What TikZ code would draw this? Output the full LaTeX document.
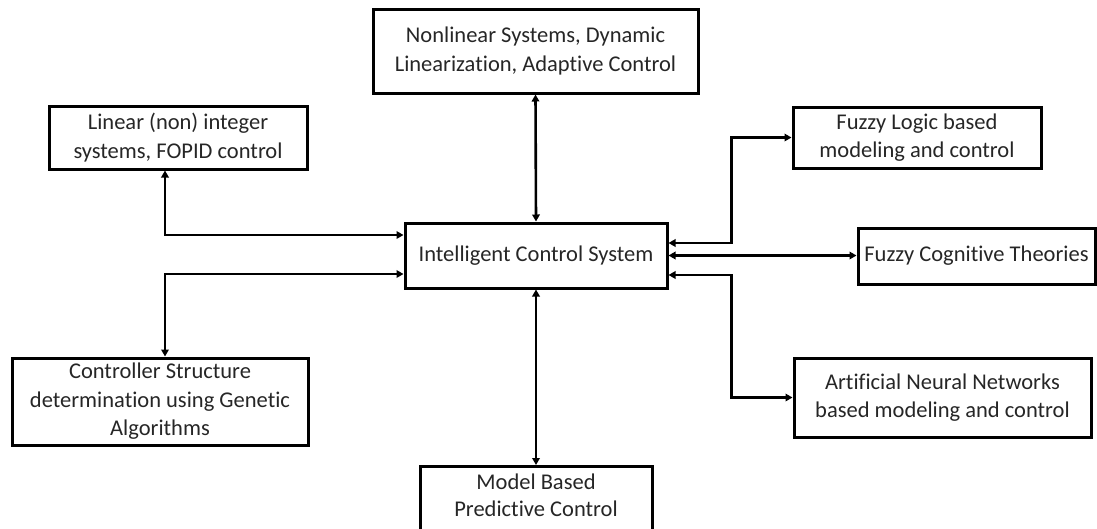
\documentclass[tikz,border=0pt]{standalone}
\usepackage{fontspec}
\setmainfont{Carlito}[Ligatures=NoCommon]
\usetikzlibrary{arrows.meta}
\tikzset{
  x=1pt, y=-1pt,
  block/.style={draw, line width=3pt, rectangle, align=center, inner sep=0pt,
    font=\fontsize{22.5}{28.5}\selectfont, text=black!85},
  conn/.style={line width=2.6pt, {Triangle[length=7pt,width=7.5pt]}-{Triangle[length=7pt,width=7.5pt]}}
}
\begin{document}
\begin{tikzpicture}
\useasboundingbox (0,0) rectangle (1097,528);

% boxes
\node[block, minimum width=325pt, minimum height=84pt] (nl) at (535.5,51)
  {Nonlinear Systems, Dynamic\\Linearization, Adaptive Control};
\node[block, minimum width=258pt, minimum height=63pt] (lin) at (178,137.5)
  {Linear (non) integer\\systems, FOPID control};
\node[block, minimum width=262pt, minimum height=65pt] (ics) at (536,255.5)
  {Intelligent Control System};
\node[block, minimum width=248pt, minimum height=61pt] (fl) at (917,137.5)
  {Fuzzy Logic based\\modeling and control};
\node[block, minimum width=237pt, minimum height=56pt] (fct) at (976.5,256)
  {Fuzzy Cognitive Theories};
\node[block, minimum width=296pt, minimum height=87pt] (ctrl) at (160,401.5)
  {Controller Structure\\determination using Genetic\\Algorithms};
% the lower box runs past the bottom edge of the page
\node[block, minimum width=232pt, inner ysep=7.5pt, anchor=north,
  font=\fontsize{22.5}{27}\selectfont] (mbpc) at (536,465)
  {Model Based\\Predictive Control\\[4pt]\mbox{}};
\node[block, minimum width=297pt, minimum height=79pt] (ann) at (942.5,397.5)
  {Artificial Neural Networks\\based modeling and control};

% connectors
\draw[conn] (nl.south) -- (ics.north);
\draw[conn] (ics.south) -- (mbpc.north);
\draw[conn] ([xshift=-13pt]lin.south) |- ([yshift=20.5pt]ics.west);
\draw[conn] ([xshift=5pt]ctrl.north) |- ([yshift=-18.5pt]ics.west);
\draw[conn] ([yshift=12.5pt]ics.east) -- ++(63pt,0) |- (fl.west);
\draw[conn] (ics.east) -- (fct.west |- ics.east);
\draw[conn] ([yshift=-19.5pt]ics.east) -- ++(63pt,0) |- (ann.west);
\end{tikzpicture}
\end{document}
